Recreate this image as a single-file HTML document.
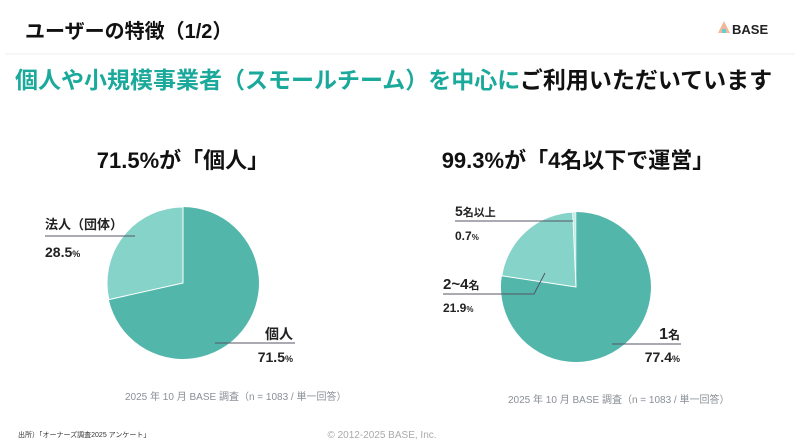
<!DOCTYPE html>
<html><head><meta charset="utf-8"><style>
html,body{margin:0;padding:0;background:#fff}
svg{display:block}
text{font-family:"Liberation Sans","Noto Sans CJK JP",sans-serif}
</style></head><body>
<svg width="800" height="447" viewBox="0 0 800 447" xmlns="http://www.w3.org/2000/svg">
<text x="25" y="38" font-size="20" font-weight="bold" fill="#111">ユーザーの特徴（1/2）</text>
<g transform="translate(718,21)">
<polygon points="6,0 0,12 12,12" fill="#f0b89a"/>
<rect x="4" y="8" width="4" height="4" fill="#6cc"/>
</g>
<text x="732" y="34" font-size="13" font-weight="bold" fill="#222">BASE</text>
<line x1="5" y1="54" x2="795" y2="54" stroke="#eee" stroke-width="1"/>
<text x="15" y="88" font-size="23" font-weight="bold" fill="#1aa99b">個人や小規模事業者（スモールチーム）を中心に<tspan fill="#111">ご利用いただいています</tspan></text>

<text x="183" y="168" font-size="22" font-weight="bold" fill="#111" text-anchor="middle">71.5%が「個人」</text>
<text x="578" y="168" font-size="22" font-weight="bold" fill="#111" text-anchor="middle">99.3%が「4名以下で運営」</text>

<path d="M183,283 L183,207 A76 76 0 1 1 108.8,299.6 Z" fill="#53b6ab"/>
<path d="M183,283 L108.8,299.6 A76 76 0 0 1 183,207 Z" fill="#86d3ca" stroke="#fff" stroke-width="1"/>

<text x="45" y="229" font-size="13" font-weight="bold" fill="#222">法人（団体）</text>
<line x1="45" y1="236" x2="135" y2="236" stroke="#556" stroke-width="1"/>
<text x="45" y="257" font-size="14" font-weight="bold" fill="#222">28.5<tspan font-size="9">%</tspan></text>
<text x="293" y="339" font-size="14" font-weight="bold" fill="#222" text-anchor="end">個人</text>
<line x1="215" y1="343" x2="295" y2="343" stroke="#556" stroke-width="1"/>
<text x="293" y="362" font-size="14" font-weight="bold" fill="#222" text-anchor="end">71.5<tspan font-size="9">%</tspan></text>
<text x="125" y="400" font-size="10" fill="#8a8f96">2025 年 10 月 BASE 調査（n = 1083 / 単一回答）</text>

<path d="M576,287 L576,212 A75 75 0 1 1 501.8,275.8 Z" fill="#53b6ab"/>
<path d="M576,287 L501.8,275.8 A75 75 0 0 1 572.7,212.1 Z" fill="#86d3ca" stroke="#fff" stroke-width="1"/>
<path d="M576,287 L572.7,212.1 A75 75 0 0 1 576,212 Z" fill="#c5ece7" stroke="#fff" stroke-width="0.5"/>

<text x="455" y="216" font-size="14" font-weight="bold" fill="#222">5<tspan font-size="11">名以上</tspan></text>
<line x1="455" y1="221" x2="573" y2="221" stroke="#556" stroke-width="1"/>
<text x="455" y="240" font-size="12" font-weight="bold" fill="#222">0.7<tspan font-size="8">%</tspan></text>
<text x="443" y="289" font-size="15" font-weight="bold" fill="#222">2~4<tspan font-size="11">名</tspan></text>
<polyline points="443,294 534,294 545,273" fill="none" stroke="#556" stroke-width="1"/>
<text x="443" y="312" font-size="12" font-weight="bold" fill="#222">21.9<tspan font-size="8">%</tspan></text>
<text x="680" y="339" font-size="16" font-weight="bold" fill="#222" text-anchor="end">1<tspan font-size="12">名</tspan></text>
<line x1="612" y1="344" x2="681" y2="344" stroke="#556" stroke-width="1"/>
<text x="680" y="362" font-size="14" font-weight="bold" fill="#222" text-anchor="end">77.4<tspan font-size="9">%</tspan></text>
<text x="508" y="403" font-size="10" fill="#8a8f96">2025 年 10 月 BASE 調査（n = 1083 / 単一回答）</text>

<text x="18" y="437" font-size="7" fill="#333">出所）「オーナーズ調査2025 アンケート」</text>
<text x="382" y="438" font-size="10" fill="#aaa" text-anchor="middle">© 2012-2025 BASE, Inc.</text>
</svg>
</body></html>
